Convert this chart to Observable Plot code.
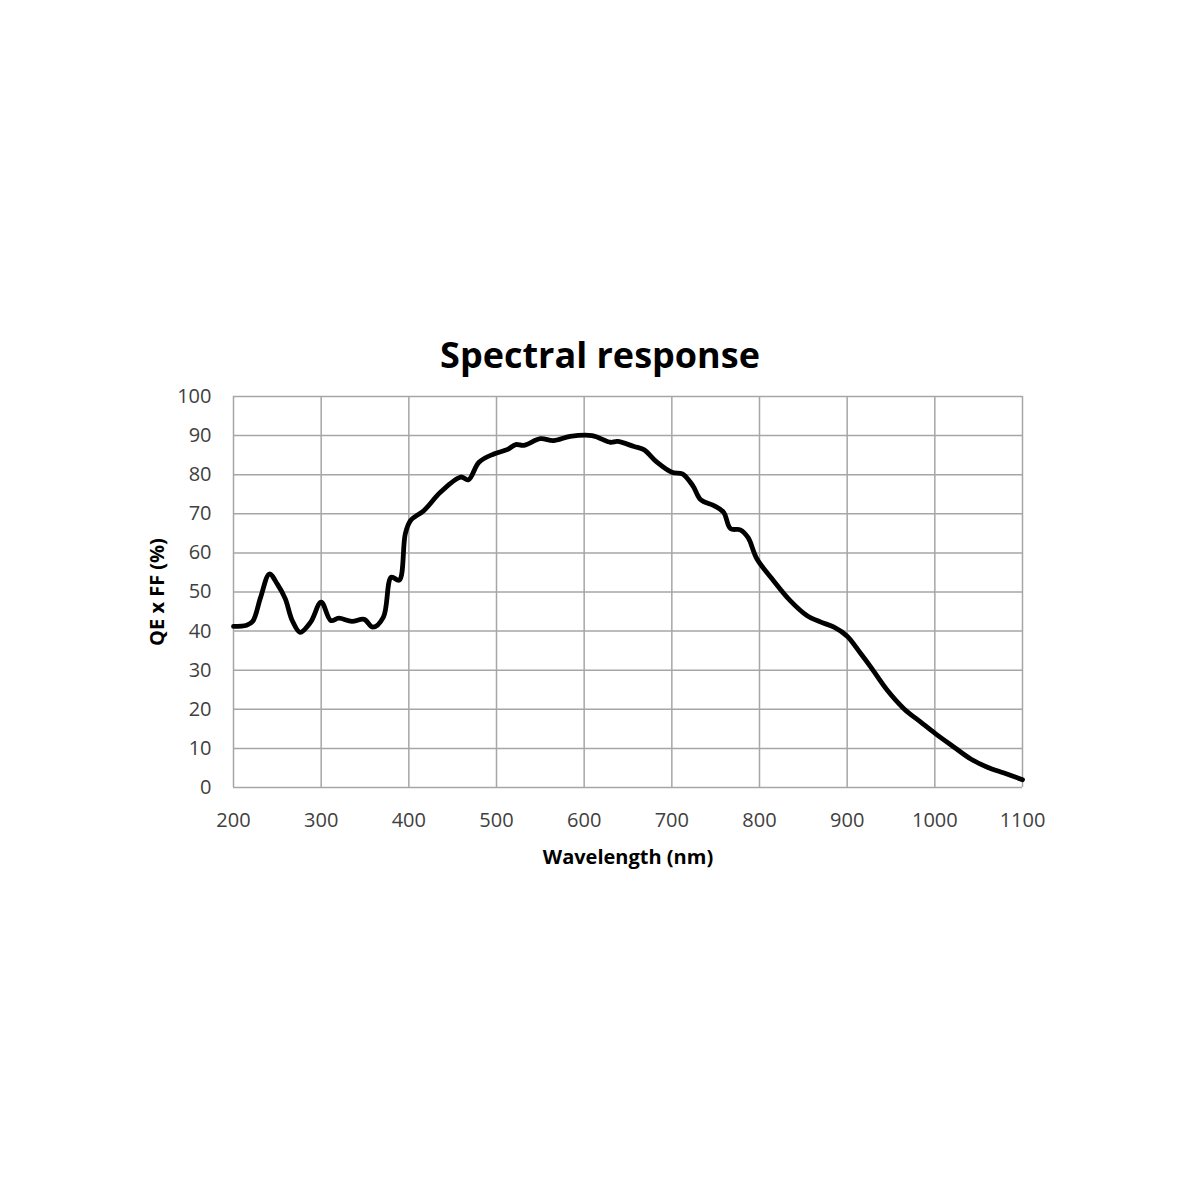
<!DOCTYPE html>
<html>
<head>
<meta charset="utf-8">
<script src="https://cdn.jsdelivr.net/npm/d3@7"></script>
<script src="https://cdn.jsdelivr.net/npm/@observablehq/plot@0.6"></script>
<style>
  html, body { margin: 0; padding: 0; background: #fff; }
  #wrap { position: relative; width: 1200px; height: 1200px; }
  #title { position: absolute; left: 0; top: 330px; width: 1200px; text-align: center;
           font-family: "Open Sans", sans-serif; font-weight: 700; font-size: 36px; line-height: 50px; color: #000; }
  #chart { position: absolute; left: 0; top: 0; }
</style>
</head>
<body>
<div id="wrap">
  <div id="chart"></div>
  <div id="title">Spectral response</div>
</div>
<script>
const wavelength = [200, 215, 222, 231, 241, 250, 259, 267, 276, 288, 300, 311, 320, 335, 349, 359, 371, 380, 389, 396, 402, 417, 436, 459, 468, 480, 497, 512, 522, 531, 550, 565, 584, 609, 630, 638, 657, 668, 683, 700, 712, 721, 725, 733, 748, 759, 767, 778, 787, 797, 816, 835, 854, 870, 885, 900, 915, 927, 946, 965, 984, 1001, 1022, 1041, 1060, 1079, 1100];
const qeff = [41.2, 41.5, 42.5, 48.7, 54.6, 52.0, 48.3, 42.7, 39.7, 42.3, 47.4, 42.7, 43.3, 42.5, 43.0, 41.0, 43.6, 53.8, 53.0, 64.9, 68.3, 70.8, 75.5, 79.4, 78.7, 83.2, 85.3, 86.4, 87.7, 87.5, 89.2, 88.7, 89.8, 90.0, 88.3, 88.5, 87.2, 86.4, 83.2, 80.6, 80.2, 78.1, 76.8, 73.6, 72.1, 70.4, 66.2, 65.9, 63.9, 58.5, 52.9, 47.8, 44.0, 42.3, 41.0, 38.7, 34.4, 30.8, 24.8, 20.1, 16.7, 13.7, 10.3, 7.3, 5.2, 3.7, 2.0];
const xTicks = [200, 300, 400, 500, 600, 700, 800, 900, 1000, 1100];
const yTicks = [0, 10, 20, 30, 40, 50, 60, 70, 80, 90, 100];
const xLabel = "Wavelength (nm)";
const yLabel = "QE x FF (%)";

const data = wavelength.map((w, i) => ({w, q: qeff[i]}));
const gridColor = "#a6a6a6";
const tickColor = "#404040";

const chart = Plot.plot({
  width: 1200,
  height: 1200,
  marginLeft: 233,
  marginRight: 178,
  marginTop: 396,
  marginBottom: 413,
  style: { fontFamily: "'Open Sans', sans-serif", background: "#fff" },
  x: { domain: [200, 1100] },
  y: { domain: [0, 100] },
  marks: [
    Plot.gridX(xTicks, { stroke: gridColor, strokeOpacity: 1, strokeWidth: 1.5 }),
    Plot.gridY(yTicks, { stroke: gridColor, strokeOpacity: 1, strokeWidth: 1.5 }),
    Plot.axisX(xTicks, { tickSize: 0, tickPadding: 25, fontSize: 20, fill: tickColor, label: null, tickFormat: d => String(d) }),
    Plot.axisY(yTicks, { tickSize: 0, tickPadding: 22, fontSize: 20, fill: tickColor, label: null, tickFormat: d => String(d) }),
    Plot.line(data, { x: "w", y: "q", curve: "catmull-rom", stroke: "#000", strokeWidth: 4.8, strokeLinejoin: "round", strokeLinecap: "round" }),
    Plot.text([xLabel], { frameAnchor: "bottom", textAnchor: "middle", dy: 76, text: d => d, fontSize: 20, fontWeight: 700, fill: "#000" }),
    Plot.text([yLabel], { frameAnchor: "left", textAnchor: "middle", dx: -76, rotate: -90, text: d => d, fontSize: 20, fontWeight: 700, fill: "#000" })
  ]
});
document.getElementById("chart").appendChild(chart);
</script>
</body>
</html>
